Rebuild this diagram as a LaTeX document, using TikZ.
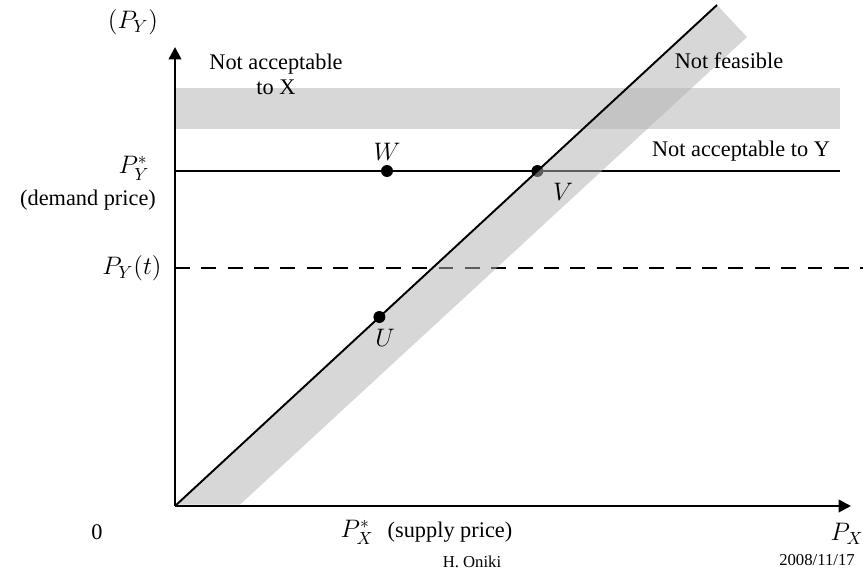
\documentclass[tikz,border=0pt]{standalone}
\usepackage{fontspec}
\setmainfont{Liberation Serif}
\usepackage{amsmath}
\usetikzlibrary{arrows.meta, positioning, calc}

\begin{document}
\begin{tikzpicture}[
  x=0.02cm, y=-0.02cm,
  font=\fontsize{12.7}{14.2}\selectfont,
  mathlbl/.style={font=\fontsize{14}{16}\selectfont},
  axis/.style={line width=1.5pt, -{Triangle[length=7pt, width=7pt]}},
  curve/.style={line width=1.1pt},
  dot/.style={circle, fill=black, minimum size=6.8pt, inner sep=0pt},
  band/.style={fill=black!30, fill opacity=0.52, draw=none},
  foot/.style={font=\fontsize{9.5}{11}\selectfont}
]
  \useasboundingbox (0,0) rectangle (863,569);

  % ── axes ────────────────────────────────────────────────────────────────
  \coordinate (origin) at (175,506);
  \coordinate (ytip)   at (175,47);
  \coordinate (xtip)   at (851,506);
  \draw[axis] (origin) -- (ytip);
  \draw[axis] (origin) -- (xtip);

  % ── price levels ────────────────────────────────────────────────────────
  \coordinate (ystar)  at (175,171);
  \coordinate (yend)   at (840,171);
  \coordinate (tleft)  at (175,268);
  \coordinate (tright) at (863,268);
  \draw[curve] (ystar) -- (yend);
  \draw[line width=1.1pt, dash pattern=on 8.5pt off 6.5pt] (tleft) -- (tright);
  \node[dot] (V) at (537.4,171) {};

  % ── shaded regions ──────────────────────────────────────────────────────
  \fill[band] (176,88) rectangle (840,129);
  \fill[band] (176.5,504.6) -- (717,5) -- (747,37) -- (240,504.6) -- cycle;

  % ── feasibility line ────────────────────────────────────────────────────
  \coordinate (ltop) at (717,5);
  \draw[curve] (origin) -- (ltop);
  \node[dot] (U) at (379.4,317) {};
  \node[dot] (W) at (387,171)   {};

  % ── point labels ────────────────────────────────────────────────────────
  \node[mathlbl] (Wlbl) at (387,152) {$W$};
  \node[mathlbl] (Vlbl) at (563,192) {$V$};
  \node[mathlbl] (Ulbl) at (385,338) {$U$};

  % ── axis labels ─────────────────────────────────────────────────────────
  \node[mathlbl] (py)     at (133,22)  {$(P_Y)$};
  \node[mathlbl] (pystar) at (134,168) {$P_Y^*$};
  \node (demand) at (88,200)  {(demand price)};
  \node[mathlbl] (pyt)    at (132,268) {$P_Y(t)$};
  \node (zero)   at (97,532)  {0};
  \node[mathlbl] (pxstar) at (357,532) {$P_X^*$};
  \node (supply) at (450,532) {(supply price)};
  \node[mathlbl] (px)     at (847,534) {$P_X$};

  % ── region labels ───────────────────────────────────────────────────────
  \node[align=center] (notX) at (276,74) {Not acceptable\\to X};
  \node (notF) at (729,61)  {Not feasible};
  \node (notY) at (741,151) {Not acceptable to Y};

  % ── footer ──────────────────────────────────────────────────────────────
  \node[foot] (author) at (472,562) {H. Oniki};
  \node[foot] (date)   at (817,560) {2008/11/17};
\end{tikzpicture}
\end{document}
